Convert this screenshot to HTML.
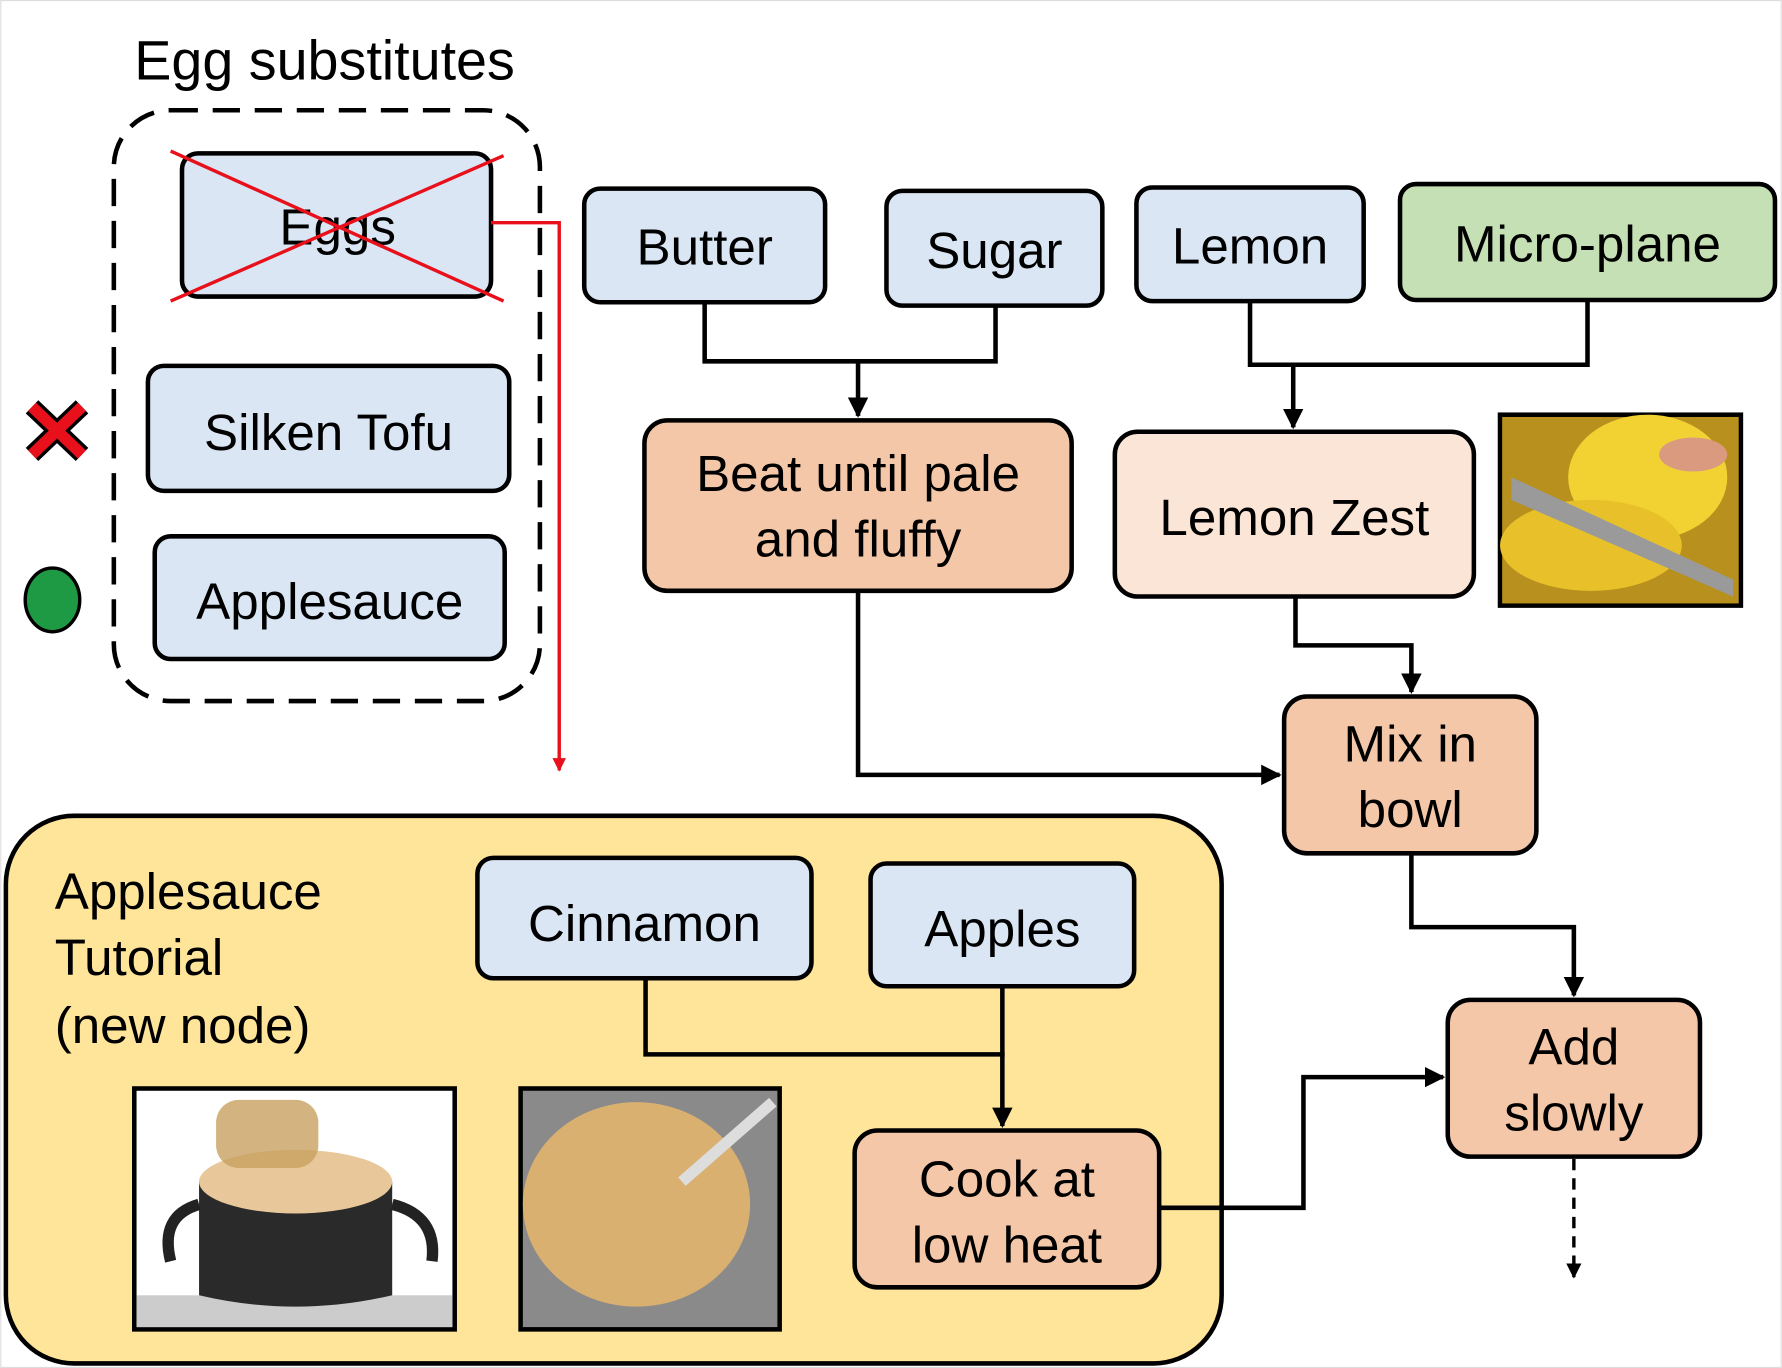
<!DOCTYPE html>
<html><head><meta charset="utf-8"><style>
html,body{margin:0;padding:0;background:#fff}
svg{display:block}
text{font-family:"Liberation Sans","DejaVu Sans",sans-serif;fill:#000}
</style></head><body>
<svg width="1782" height="1368" viewBox="0 0 1568 1204" xmlns="http://www.w3.org/2000/svg">
<defs>
<marker id="ah" viewBox="0 0 10 10" refX="9" refY="5" markerWidth="4.5" markerHeight="4.5" orient="auto"><path d="M0,0L10,5L0,10z" fill="#000"/></marker>
<marker id="ahr" viewBox="0 0 10 10" refX="9" refY="5" markerWidth="4" markerHeight="4" orient="auto"><path d="M0,0L10,5L0,10z" fill="#e8101a"/></marker>
</defs>
<rect x="0.5" y="0.5" width="1567" height="1203" fill="none" stroke="#ddd" stroke-width="1"/>
<text x="118" y="70" font-size="49">Egg substitutes</text>
<rect x="100" y="97" width="375" height="520" rx="50" fill="none" stroke="#000" stroke-width="4" stroke-dasharray="24 13"/>
<g stroke="#000" stroke-width="4">
<rect x="160" y="135" width="272" height="126" rx="14" fill="#dae6f4"/>
<rect x="130" y="322" width="318" height="110" rx="14" fill="#dae6f4"/>
<rect x="136" y="472" width="308" height="108" rx="14" fill="#dae6f4"/>
</g>
<g font-size="45">
<text x="297" y="215" text-anchor="middle">Eggs</text>
<text x="289" y="396" text-anchor="middle">Silken Tofu</text>
<text x="290" y="545" text-anchor="middle">Applesauce</text>
</g>
<g stroke="#e8101a" stroke-width="3"><line x1="150" y1="133" x2="443" y2="265"/><line x1="150" y1="265" x2="443" y2="137"/></g>
<path d="M432,196H492V678" fill="none" stroke="#e8101a" stroke-width="3" marker-end="url(#ahr)"/>
<g><path d="M28,358L72,400M72,358L28,400" stroke="#000" stroke-width="16"/><path d="M28,358L72,400M72,358L28,400" stroke="#e8101a" stroke-width="10"/></g>
<ellipse cx="46" cy="528" rx="24" ry="28" fill="#1e9a45" stroke="#000" stroke-width="3"/>
<g stroke="#000" stroke-width="4">
<rect x="514" y="166" width="212" height="100" rx="14" fill="#dae6f4"/>
<rect x="780" y="168" width="190" height="101" rx="14" fill="#dae6f4"/>
<rect x="1000" y="165" width="200" height="100" rx="14" fill="#dae6f4"/>
<rect x="1232" y="162" width="330" height="102" rx="14" fill="#c5e0b4"/>
<rect x="567" y="370" width="376" height="150" rx="20" fill="#f4c7a9"/>
<rect x="981" y="380" width="316" height="145" rx="20" fill="#fbe5d6"/>
<rect x="1130" y="613" width="222" height="138" rx="20" fill="#f4c7a9"/>
<rect x="1274" y="880" width="222" height="138" rx="20" fill="#f4c7a9"/>
</g>
<g font-size="45">
<text x="620" y="233" text-anchor="middle">Butter</text>
<text x="875" y="236" text-anchor="middle">Sugar</text>
<text x="1100" y="232" text-anchor="middle">Lemon</text>
<text x="1397" y="230" text-anchor="middle">Micro-plane</text>
<text x="755" y="432" text-anchor="middle">Beat until pale</text>
<text x="755" y="490" text-anchor="middle">and fluffy</text>
<text x="1139" y="471" text-anchor="middle">Lemon Zest</text>
<text x="1241" y="670" text-anchor="middle">Mix in</text>
<text x="1241" y="728" text-anchor="middle">bowl</text>
<text x="1385" y="937" text-anchor="middle">Add</text>
<text x="1385" y="995" text-anchor="middle">slowly</text>
</g>
<g>
<rect x="1320" y="365" width="212" height="168" fill="#c49a1a" stroke="#000" stroke-width="4"/>
<rect x="1322" y="367" width="208" height="164" fill="#b8901e"/>
<ellipse cx="1450" cy="420" rx="70" ry="55" fill="#f2d233"/>
<ellipse cx="1400" cy="480" rx="80" ry="40" fill="#e8c12a"/>
<path d="M1330,420L1525,510L1525,525L1330,440z" fill="#9a9a9a"/>
<ellipse cx="1490" cy="400" rx="30" ry="15" fill="#d99a80"/>
</g>
<g fill="none" stroke="#000" stroke-width="4">
<path d="M620,266V318H876V269"/>
<path d="M755,318V366" marker-end="url(#ah)"/>
<path d="M1100,265V321H1397V264"/>
<path d="M1138,321V376" marker-end="url(#ah)"/>
<path d="M755,520V682H1126" marker-end="url(#ah)"/>
<path d="M1140,525V568H1242V609" marker-end="url(#ah)"/>
<path d="M1242,751V816H1385V876" marker-end="url(#ah)"/>
<path d="M1385,1020V1124" stroke-width="3" stroke-dasharray="10 7" marker-end="url(#ah)"/>
</g>
<rect x="5" y="718" width="1070" height="482" rx="60" fill="#fee599" stroke="#000" stroke-width="4"/>
<g font-size="45">
<text x="48" y="800">Applesauce</text>
<text x="48" y="858">Tutorial</text>
<text x="48" y="918">(new node)</text>
</g>
<g stroke="#000" stroke-width="4">
<rect x="420" y="755" width="294" height="106" rx="14" fill="#dae6f4"/>
<rect x="766" y="760" width="232" height="108" rx="14" fill="#dae6f4"/>
<rect x="752" y="995" width="268" height="138" rx="20" fill="#f4c7a9"/>
</g>
<g font-size="45">
<text x="567" y="828" text-anchor="middle">Cinnamon</text>
<text x="882" y="833" text-anchor="middle">Apples</text>
<text x="886" y="1053" text-anchor="middle">Cook at</text>
<text x="886" y="1111" text-anchor="middle">low heat</text>
</g>
<g fill="none" stroke="#000" stroke-width="4">
<path d="M568,861V928H884"/>
<path d="M882,868V991" marker-end="url(#ah)"/>
<path d="M1020,1063H1147V948H1270" marker-end="url(#ah)"/>
</g>
<g>
<rect x="118" y="958" width="282" height="212" fill="#fff" stroke="#000" stroke-width="4"/>
<rect x="120" y="1140" width="278" height="28" fill="#ccc"/>
<path d="M175,1040H345V1140Q260,1160 175,1140z" fill="#2a2a2a"/>
<ellipse cx="260" cy="1040" rx="85" ry="28" fill="#e8c89a"/>
<rect x="190" y="968" width="90" height="60" rx="20" fill="#c8a060" opacity="0.8"/>
<path d="M175,1060Q140,1070 150,1110" stroke="#222" stroke-width="10" fill="none"/>
<path d="M345,1060Q385,1070 380,1110" stroke="#222" stroke-width="10" fill="none"/>
</g>
<g>
<rect x="458" y="958" width="228" height="212" fill="#8a8a8a" stroke="#000" stroke-width="4"/>
<ellipse cx="560" cy="1060" rx="100" ry="90" fill="#d9b070"/>
<path d="M600,1040L680,970" stroke="#ddd" stroke-width="10"/>
</g>
</svg>
</body></html>
